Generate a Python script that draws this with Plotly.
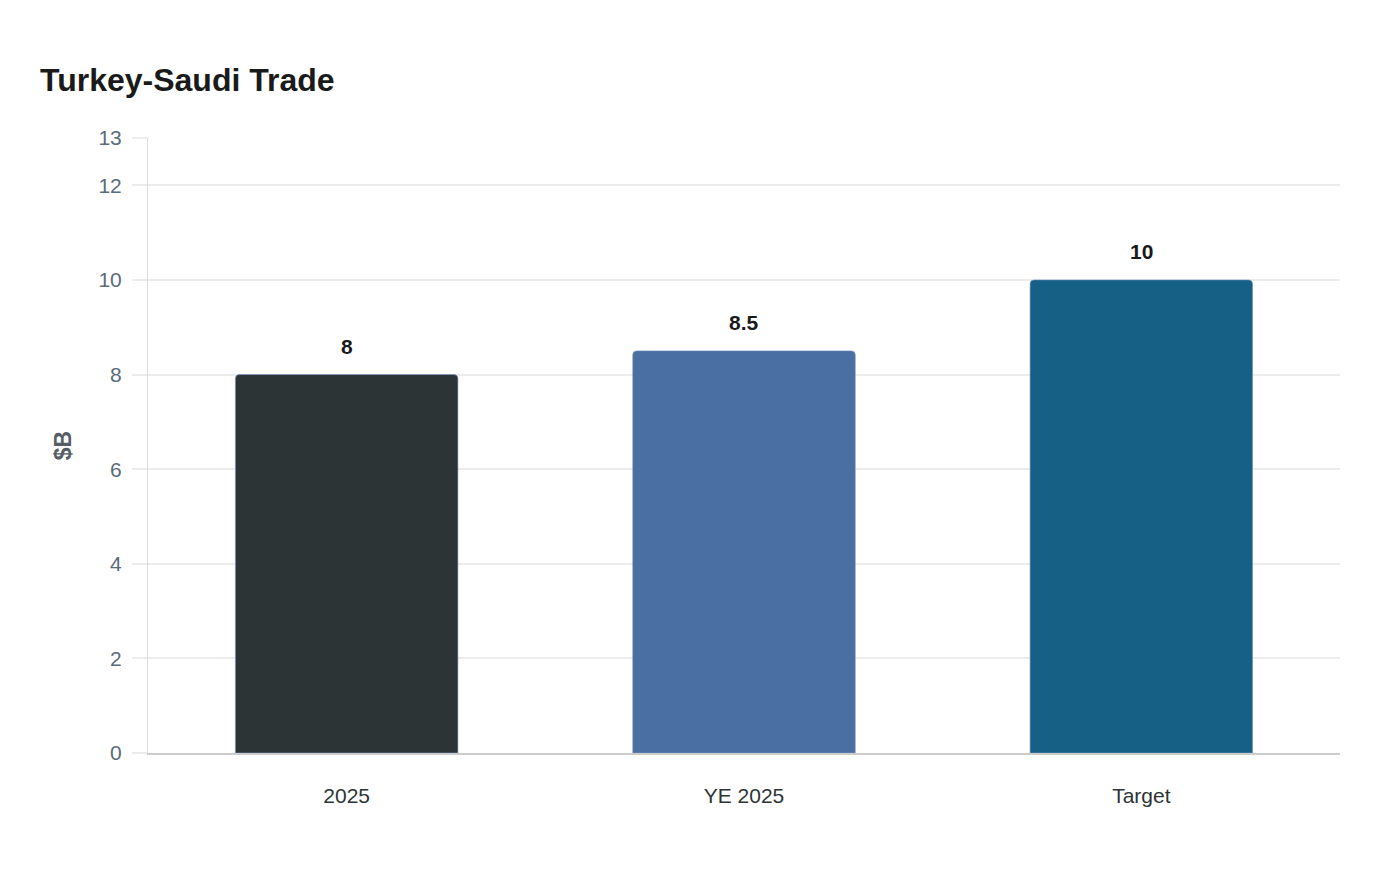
import plotly.graph_objects as go

categories = ["2025", "YE 2025", "Target"]
values = [8, 8.5, 10]
bar_colors = ["#2d3436", "#4a6fa3", "#166086"]
y_ticks = [0, 2, 4, 6, 8, 10, 12, 13]

font_family = "Liberation Sans, Arial, sans-serif"

# the page has an 8px body margin, so the figure is a bit smaller than the window
W, H = 1384, 864

fig = go.Figure(
    go.Bar(
        x=categories,
        y=values,
        marker=dict(
            color=bar_colors,
            cornerradius=4,
            line=dict(color="rgba(120,150,190,0.6)", width=1),
        ),
        hoverinfo="x+y",
    )
)

# value labels; use the category index, since "2025" is read as a number otherwise
for i, val in enumerate(values):
    fig.add_annotation(
        x=i,
        y=val,
        text=f"<b>{val:g}</b>",
        showarrow=False,
        yanchor="bottom",
        yshift=15,
        font=dict(family=font_family, size=21, color="#1a1a1a"),
    )

fig.update_layout(
    width=W,
    height=H,
    paper_bgcolor="white",
    plot_bgcolor="white",
    margin=dict(l=140, r=52, t=130, b=119),
    bargap=0.44,
    showlegend=False,
    font=dict(family=font_family),
    title=dict(
        text="<b>Turkey-Saudi Trade</b>",
        x=32 / W,
        xanchor="left",
        y=1 - 72 / H,
        yanchor="middle",
        font=dict(family=font_family, size=32, color="#1a1a1a"),
    ),
)

fig.update_xaxes(
    type="category",
    range=[-0.5, len(categories) - 0.5],
    showgrid=False,
    showline=True,
    linecolor="#cccccc",
    linewidth=2,
    ticks="",
    tickfont=dict(family=font_family, size=21, color="#2d3436"),
    ticklabelstandoff=23,
)

fig.update_yaxes(
    range=[0, 13],
    tickvals=y_ticks,
    showgrid=True,
    gridcolor="#ececec",
    gridwidth=1.5,
    zeroline=False,
    showline=True,
    linecolor="#dddddd",
    linewidth=1,
    ticks="outside",
    ticklen=15,
    tickcolor="#ececec",
    tickwidth=1.5,
    ticklabelstandoff=6,
    tickfont=dict(family=font_family, size=21, color="#5a6b7b"),
    title=dict(
        text="<b>$B</b>",
        font=dict(family=font_family, size=23, color="#555e66"),
        standoff=20,
    ),
)

fig.write_html("out.html")
